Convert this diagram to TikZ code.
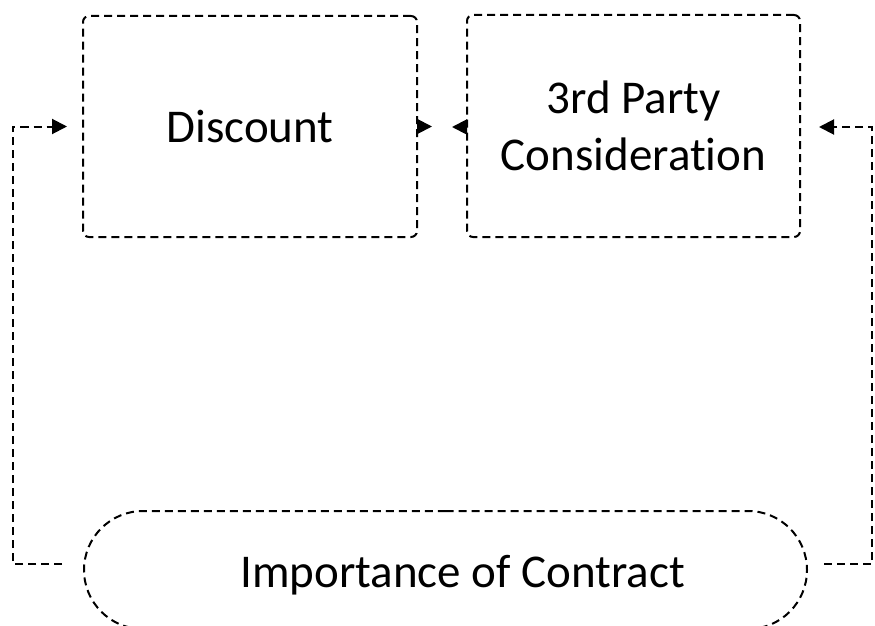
\documentclass[tikz,border=0pt]{standalone}
\usepackage{fontspec}
\setmainfont{Carlito}[Ligatures=NoCommon]
\usetikzlibrary{arrows.meta,shapes.misc,calc}
\begin{document}
\begin{tikzpicture}[x=1pt,y=-1pt,
  dsh/.style={line width=2pt, dash pattern=on 8pt off 5pt},
  boxstyle/.style={dsh, draw, rounded corners=6pt, minimum width=334pt, minimum height=221pt, inner sep=0pt, align=center, font=\fontsize{47}{57}\selectfont},
  stadium/.style={dsh, draw, rounded rectangle, rounded rectangle arc length=180, minimum width=723pt, minimum height=118pt, inner sep=0pt},
  lbl/.style={font=\fontsize{47}{57}\selectfont, inner sep=0pt},
  conn/.style={dsh, -{Triangle[length=15pt,width=15pt]}}]
\useasboundingbox (0,0) rectangle (875,626);
\node[boxstyle] (disc) at (250,126.5) {Discount};
\node[boxstyle, minimum width=333pt, minimum height=222pt] (third) at (633.5,126) {3rd Party\\Consideration};
\node[stadium] (imp) at (445.5,570) {};
\node[lbl, anchor=base] (impt) at (462.5,587) {Importance of Contract};
% left loop
\coordinate (lS) at ($(imp.west)+(-21,-6)$);
\coordinate (lx) at (13,564);
\coordinate (lt) at ($(disc.west)+(-15,0)$);
\draw[conn] (lS) -- (lx) |- (lt);
% right loop
\coordinate (rS) at ($(imp.east)+(16,-6)$);
\coordinate (rx) at (872,564);
\coordinate (rt) at ($(third.east)+(18,1)$);
\draw[conn] (rS) -- (rx) |- (rt);
% middle arrows
\coordinate (m1) at ($(disc.east)+(14,0)$);
\coordinate (m2) at ($(third.west)+(-14,1)$);
\draw[conn] (disc.east) -- (m1);
\draw[conn] ($(third.west)+(0,1)$) -- (m2);
\end{tikzpicture}
\end{document}
